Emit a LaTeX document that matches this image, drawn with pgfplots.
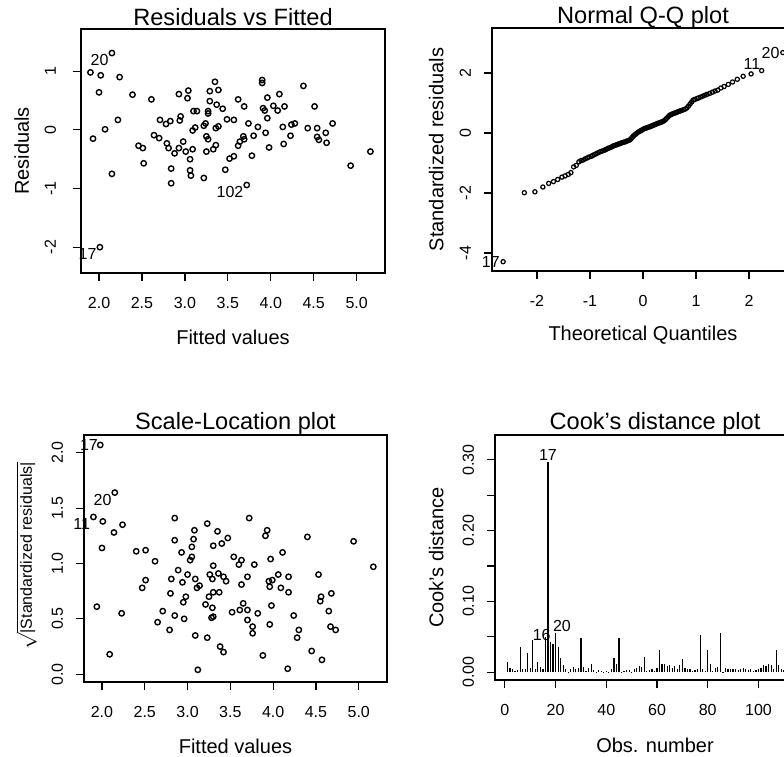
\documentclass[border=0pt]{standalone}
\usepackage{pgfplots}
\pgfplotsset{compat=1.18}
\usepackage{fontspec}
\setmainfont{Liberation Sans}
\tikzset{lab/.style={font=\fontsize{8}{9.6}\selectfont, inner sep=0.5pt}}
\begin{document}
\begin{tikzpicture}
\useasboundingbox (0pt,0pt) rectangle (392pt,378.5pt);
\clip (0pt,0pt) rectangle (392pt,378.5pt);
\pgfplotsset{
  rplot/.style={
    scale only axis, clip=false, enlargelimits=false,
    axis line style={line width=0.75pt},
    tick align=outside, xtick pos=bottom, ytick pos=left,
    major tick length=4pt, minor tick num=0,
    every tick/.style={black, line width=0.6pt},
    tick label style={font=\fontsize{8}{9.6}\selectfont},
    xticklabel style={yshift=-4.5pt},
    label style={font=\fontsize{10}{12}\selectfont},
    title style={font=\fontsize{11.8}{14}\selectfont, at={(0.5,1)}, anchor=base, yshift=-3.5pt},
  },
  pts/.style={only marks, mark=o, mark size=1.35pt, mark options={line width=0.7pt, black}},
}

% ---------------- Residuals vs Fitted ----------------
\begin{axis}[rplot, at={(40.5pt,242pt)}, anchor=south west,
  width=152pt, height=122pt,
  xmin=1.79, xmax=5.33, ymin=-2.44, ymax=1.72,
  xtick={2,2.5,3,3.5,4,4.5,5}, xticklabels={2.0,2.5,3.0,3.5,4.0,4.5,5.0},
  ytick={-2,-1,0,1}, yticklabels={-2,-1,0,1},
  yticklabel style={xshift=-5pt, rotate=90, anchor=south},
  title={Residuals vs Fitted},
  title style={yshift=-1pt},
  xlabel={Fitted values}, ylabel={Residuals},
  xlabel style={at={(axis description cs:0.5,-0.262)}, anchor=center},
  ylabel style={at={(axis description cs:-0.195,0.5)}, anchor=center},
]
\addplot[pts] coordinates {
(2.15,1.31) (1.90,0.98) (2.02,0.93) (2.24,0.90) (2.00,0.64) (2.39,0.60)
(2.61,0.52) (2.93,0.61) (3.04,0.67) (3.03,0.54) (3.35,0.82) (3.29,0.66)
(3.39,0.68) (3.29,0.49) (3.37,0.43) (3.44,0.36) (3.27,0.32) (3.27,0.28)
(3.10,0.32) (3.14,0.32) (2.95,0.23) (2.94,0.16) (2.71,0.17) (2.78,0.10)
(2.83,0.15) (3.24,0.11) (3.22,0.07) (3.49,0.18) (3.57,0.17) (2.22,0.17)
(2.07,0.01) (1.93,-0.15) (2.64,-0.09) (2.70,-0.14) (3.12,0.04) (3.09,-0.01)
(3.36,0.03) (3.39,0.06) (3.25,-0.11) (3.27,-0.16) (2.46,-0.27) (2.51,-0.31)
(2.79,-0.23) (2.81,-0.31) (2.88,-0.40) (2.93,-0.31) (2.98,-0.20) (3.01,-0.37)
(3.09,-0.33) (3.25,-0.37) (3.33,-0.33) (3.36,-0.26) (3.52,-0.49) (3.47,-0.68)
(2.52,-0.57) (3.06,-0.50) (2.84,-0.66) (3.06,-0.69) (3.07,-0.78) (3.22,-0.82)
(2.84,-0.91) (2.15,-0.75) (2.01,-2.00)
(3.90,0.85) (3.90,0.80) (4.38,0.75) (4.10,0.61) (3.96,0.55) (3.62,0.52)
(3.69,0.40) (4.51,0.40) (3.91,0.37) (3.93,0.33) (4.03,0.41) (4.08,0.33)
(4.16,0.40) (3.96,0.20) (3.74,0.11) (3.85,0.05) (4.14,0.05) (4.24,0.09)
(4.28,0.11) (4.43,0.03) (4.54,0.03) (4.72,0.11) (4.64,-0.05) (4.65,-0.22)
(4.56,-0.17) (4.54,-0.12) (3.94,-0.05) (3.80,-0.10) (3.68,-0.11) (3.69,-0.16)
(3.64,-0.20) (3.62,-0.27) (4.23,-0.10) (4.15,-0.24) (3.98,-0.30) (3.78,-0.44)
(3.57,-0.45) (5.16,-0.37) (4.93,-0.61) (3.72,-0.94)
};
\node[lab, anchor=north east, xshift=-1pt] at (axis cs:2.15,1.31) {20};
\node[lab, anchor=north east, xshift=-1pt] at (axis cs:2.01,-2.00) {17};
\node[lab, anchor=north east, xshift=-1pt] at (axis cs:3.72,-0.94) {102};
\end{axis}

% ---------------- Normal Q-Q plot ----------------
\begin{axis}[rplot, at={(246pt,243pt)}, anchor=south west,
  width=151pt, height=121.5pt,
  xmin=-2.85, xmax=2.85, ymin=-4.6, ymax=3.5,
  xtick={-2,-1,0,1,2}, xticklabels={-2,-1,0,1,2},
  ytick={-4,-2,0,2}, yticklabels={-4,-2,0,2},
  yticklabel style={xshift=-3pt, rotate=90, anchor=south},
  title={Normal Q-Q plot},
  xlabel={Theoretical Quantiles}, ylabel={Standardized residuals},
  xlabel style={at={(axis description cs:0.5,-0.263)}, anchor=center},
  ylabel style={at={(axis description cs:-0.185,0.5)}, anchor=center},
]
\addplot[only marks, mark=o, mark size=1.05pt, mark options={line width=0.6pt, black}] coordinates {
(-2.64,-4.29) (-2.24,-1.99) (-2.04,-1.96) (-1.89,-1.80) (-1.78,-1.68) (-1.69,-1.62)
(-1.61,-1.55) (-1.53,-1.47) (-1.47,-1.43) (-1.41,-1.38) (-1.36,-1.32) (-1.31,-1.13)
(-1.26,-1.08) (-1.21,-0.96) (-1.17,-0.92) (-1.13,-0.90) (-1.09,-0.86) (-1.05,-0.83)
(-1.02,-0.80) (-0.98,-0.78) (-0.95,-0.75) (-0.92,-0.72) (-0.89,-0.70) (-0.86,-0.67)
(-0.83,-0.64) (-0.80,-0.62) (-0.77,-0.60) (-0.74,-0.58) (-0.71,-0.56) (-0.69,-0.54)
(-0.66,-0.51) (-0.64,-0.50) (-0.61,-0.48) (-0.59,-0.46) (-0.56,-0.43) (-0.54,-0.42)
(-0.51,-0.40) (-0.49,-0.39) (-0.47,-0.37) (-0.44,-0.36) (-0.42,-0.34) (-0.40,-0.33)
(-0.37,-0.31) (-0.35,-0.30) (-0.33,-0.29) (-0.31,-0.27) (-0.29,-0.26) (-0.26,-0.24)
(-0.24,-0.22) (-0.22,-0.18) (-0.20,-0.14) (-0.18,-0.10) (-0.16,-0.07) (-0.14,-0.04)
(-0.12,-0.01) (-0.09,0.03) (-0.07,0.05) (-0.05,0.07) (-0.03,0.09) (-0.01,0.11)
(0.01,0.13) (0.03,0.15) (0.05,0.16) (0.07,0.17) (0.09,0.19) (0.12,0.20)
(0.14,0.22) (0.16,0.23) (0.18,0.25) (0.20,0.26) (0.22,0.28) (0.24,0.29)
(0.26,0.31) (0.29,0.33) (0.31,0.34) (0.33,0.35) (0.35,0.37) (0.37,0.38)
(0.40,0.41) (0.42,0.44) (0.44,0.48) (0.47,0.53) (0.49,0.57) (0.51,0.60)
(0.54,0.62) (0.56,0.64) (0.59,0.66) (0.61,0.67) (0.64,0.69) (0.66,0.71)
(0.69,0.73) (0.71,0.74) (0.74,0.76) (0.77,0.78) (0.80,0.80) (0.83,0.84)
(0.86,0.90) (0.89,0.97) (0.92,1.04) (0.95,1.10) (0.98,1.12) (1.02,1.15)
(1.05,1.17) (1.09,1.20) (1.13,1.23) (1.17,1.26) (1.21,1.29) (1.26,1.32)
(1.31,1.36) (1.36,1.40) (1.41,1.43) (1.47,1.50) (1.53,1.55) (1.61,1.62)
(1.69,1.70) (1.78,1.79) (1.89,1.89) (2.04,1.97) (2.24,2.08) (2.64,2.68)
};
\node[lab, anchor=east, xshift=-1pt] at (axis cs:-2.64,-4.29) {17};
\node[lab, anchor=south east, xshift=0pt] at (axis cs:2.24,2.08) {11};
\node[lab, anchor=east, xshift=-1pt] at (axis cs:2.64,2.68) {20};
\end{axis}

% ---------------- Scale-Location plot ----------------
\begin{axis}[rplot, at={(42pt,37.5pt)}, anchor=south west,
  width=151.5pt, height=123.5pt,
  xmin=1.79, xmax=5.33, ymin=-0.07, ymax=2.16,
  xtick={2,2.5,3,3.5,4,4.5,5}, xticklabels={2.0,2.5,3.0,3.5,4.0,4.5,5.0},
  ytick={0,0.5,1,1.5,2}, yticklabels={0.0,0.5,1.0,1.5,2.0},
  yticklabel style={xshift=-3pt, rotate=90, anchor=south},
  title={Scale-Location plot},
  xlabel={Fitted values},
  ylabel={$\sqrt{\mbox{\fontsize{8}{9.6}\selectfont|Standardized residuals|}}$},
  xlabel style={at={(axis description cs:0.5,-0.262)}, anchor=center},
  ylabel style={at={(axis description cs:-0.19,0.51)}, anchor=center},
]
\addplot[pts] coordinates {
(1.98,2.07) (2.15,1.64) (1.90,1.42) (2.01,1.38) (2.24,1.35) (2.14,1.28)
(2.00,1.14) (2.40,1.11) (2.51,1.12) (2.62,1.02) (2.85,1.41) (2.85,1.21)
(2.93,1.10) (3.05,1.15) (3.05,1.06) (3.03,1.03) (3.08,1.30) (3.07,1.22)
(3.23,1.36) (3.35,1.29) (3.30,1.16) (3.40,1.18) (3.47,1.23) (3.54,1.06)
(2.89,0.94) (2.81,0.86) (2.94,0.83) (3.00,0.90) (3.09,0.86) (3.14,0.80)
(3.11,0.78) (3.30,0.98) (3.26,0.90) (3.29,0.86) (3.36,0.91) (3.42,0.88)
(3.45,0.84) (2.51,0.85) (2.47,0.78) (2.80,0.73) (2.98,0.70) (2.95,0.65)
(3.25,0.70) (3.30,0.74) (3.37,0.74) (3.21,0.63) (3.29,0.60) (3.28,0.51)
(3.30,0.52) (3.52,0.56) (1.94,0.61) (2.23,0.55) (2.71,0.57) (2.65,0.47)
(2.85,0.53) (2.96,0.50) (2.79,0.40) (3.09,0.35) (3.23,0.33) (3.38,0.25)
(3.42,0.20) (2.09,0.18) (3.12,0.04)
(3.72,1.41) (3.93,1.30) (3.91,1.25) (4.40,1.24) (4.94,1.20) (4.11,1.10)
(3.97,1.04) (5.17,0.97) (3.63,1.03) (3.60,0.99) (3.78,0.99) (3.70,0.88)
(3.63,0.81) (3.95,0.84) (3.96,0.79) (4.06,0.90) (4.09,0.78) (4.18,0.88)
(4.18,0.74) (3.99,0.85) (4.53,0.90) (4.56,0.70) (4.55,0.66) (4.68,0.73)
(3.98,0.62) (3.65,0.64) (3.61,0.58) (3.70,0.58) (3.82,0.55) (3.70,0.49)
(3.76,0.43) (3.76,0.37) (3.96,0.45) (4.24,0.53) (4.30,0.40) (4.28,0.33)
(4.65,0.57) (4.67,0.43) (4.73,0.40) (3.88,0.17) (4.45,0.21) (4.57,0.13)
(4.17,0.05)
};
\node[lab, anchor=east, xshift=-0.5pt] at (axis cs:1.98,2.07) {17};
\node[lab, anchor=north east, xshift=-1pt] at (axis cs:2.15,1.64) {20};
\node[lab, anchor=north east, xshift=-1pt] at (axis cs:1.90,1.42) {11};
\end{axis}

% ---------------- Cook's distance plot ----------------
\begin{axis}[rplot, at={(247.5pt,38.5pt)}, anchor=south west,
  width=160pt, height=122.5pt,
  xmin=-3.9, xmax=122.3, ymin=-0.011, ymax=0.335,
  xtick={0,20,40,60,80,100}, xticklabels={0,20,40,60,80,100},
  ytick={0,0.05,0.10,0.15,0.20,0.25,0.30}, yticklabels={0.00,,0.10,,0.20,,0.30},
  yticklabel style={xshift=-3pt, rotate=90, anchor=south},
  title={Cook's distance plot},
  xlabel={Obs. number}, ylabel={Cook's distance},
  xlabel style={at={(axis description cs:0.5,-0.265)}, anchor=center},
  ylabel style={at={(axis description cs:-0.184,0.5)}, anchor=center},
]
\addplot[ycomb, no marks, black, line width=0.6pt] coordinates {
(1,0.015) (2,0.006) (3,0.004) (4,0.002) (5,0.003) (6,0.035) (7,0.004) (8,0.005)
(9,0.027) (10,0.006) (11,0.046) (12,0.004) (13,0.015) (14,0.007) (15,0.005) (16,0.050)
(17,0.297) (18,0.042) (19,0.040) (20,0.056) (21,0.035) (22,0.020) (23,0.010) (24,0.004)
(25,0.001) (26,0.005) (27,0.007) (28,0.004) (29,0.006) (30,0.049) (31,0.008) (32,0.002)
(33,0.006) (34,0.011) (35,0.003) (36,0.001) (37,0.003) (38,0.002) (39,0.001) (40,0.002)
(41,0.001) (42,0.004) (43,0.020) (44,0.012) (45,0.049) (46,0.001) (47,0.002) (48,0.003)
(49,0.003) (50,0.001) (51,0.004) (52,0.006) (53,0.009) (54,0.007) (55,0.022) (56,0.002)
(57,0.003) (58,0.004) (59,0.002) (60,0.006) (61,0.032) (62,0.011) (63,0.012) (64,0.009)
(65,0.010) (66,0.006) (67,0.009) (68,0.004) (69,0.010) (70,0.018) (71,0.006) (72,0.005)
(73,0.004) (74,0.002) (75,0.003) (76,0.004) (77,0.052) (78,0.005) (79,0.002) (80,0.031)
(81,0.012) (82,0.002) (83,0.006) (84,0.008) (85,0.056) (86,0.001) (87,0.006) (88,0.005)
(89,0.004) (90,0.005) (91,0.004) (92,0.003) (93,0.005) (94,0.006) (95,0.004) (96,0.003)
(97,0.005) (98,0.002) (99,0.003) (100,0.004) (101,0.006) (102,0.010) (103,0.009) (104,0.012)
(105,0.010) (106,0.004) (107,0.032) (108,0.010) (109,0.004) (110,0.003) (111,0.006) (112,0.004)
(113,0.008) (114,0.003) (115,0.005) (116,0.007) (117,0.002) (118,0.004) (119,0.006) (120,0.003)
};
\node[lab, anchor=south] at (axis cs:17,0.297) {17};
\node[lab, anchor=south west, xshift=-2pt] at (axis cs:20,0.056) {20};
\node[lab, anchor=south east, xshift=1pt] at (axis cs:17.8,0.042) {16};
\end{axis}
\end{tikzpicture}
\end{document}
